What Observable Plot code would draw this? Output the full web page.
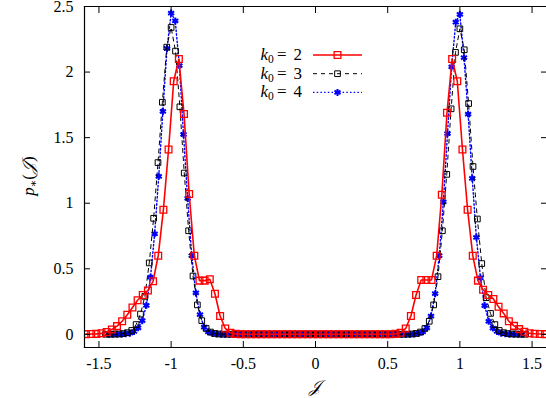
<!DOCTYPE html>
<html><head><meta charset="utf-8">
<script src="https://cdn.jsdelivr.net/npm/d3@7"></script>
<script src="https://cdn.jsdelivr.net/npm/@observablehq/plot@0.6"></script>
<style>
body{margin:0;background:#fff;}
#wrap{width:546px;height:398px;}
</style></head><body><div id="wrap"></div>
<script>
// k0 = 2 : samples at J = (2k+1)/56, k = -45..44
const pRed = [
  0.002,0.003,0.004,0.008,0.018,0.038,0.063,0.10,0.15,0.205,
  0.26,0.30,0.335,0.405,0.60,0.95,1.41,1.93,2.10,1.68,
  1.07,0.60,0.41,0.41,0.42,0.31,0.14,0.045,0.012,0.004,
  0.001,0.001,0.001,0.001,0.001,0.001,0.001,0.001,0.001,0.001,0.001,0.001,0.001,0.001,0.001,
  0.001,0.001,0.001,0.001,0.001,0.001,0.001,0.001,0.001,0.001,0.001,0.001,0.001,0.001,0.001,
  0.004,0.012,0.045,0.14,0.30,0.415,0.415,0.415,0.60,1.065,
  1.69,2.10,1.93,1.41,0.95,0.60,0.41,0.34,0.30,0.27,
  0.21,0.16,0.10,0.065,0.04,0.02,0.009,0.005,0.003,0.002
];
// k0 = 3 : samples at J = k/33, k = -48..48
const pBlack = [
  0.001,0.001,0.002,0.003,0.006,0.013,0.03,0.075,0.155,0.29,
  0.545,0.885,1.31,1.77,2.19,2.34,2.16,1.735,1.23,0.79,
  0.445,0.225,0.105,0.045,0.018,0.007,0.003,
  0.001,0.001,0.001,0.001,0.001,0.001,0.001,0.001,0.001,0.001,0.001,0.001,0.001,0.001,0.001,
  0.001,0.001,0.001,0.001,0.001,0.001,0.001,0.001,0.001,0.001,0.001,0.001,0.001,0.001,0.001,
  0.001,0.001,0.001,0.001,0.001,0.001,0.001,0.001,0.001,0.001,0.001,0.001,0.001,
  0.003,0.007,0.018,0.045,0.10,0.225,0.44,
  0.79,1.22,1.72,2.15,2.33,2.17,1.76,1.28,0.88,0.54,
  0.28,0.16,0.075,0.03,0.013,0.006,0.003,0.002,0.001,0.001
];
// k0 = 4 : samples at J = k/35, k = -50..50
const pBlue = [
  0.001,0.001,0.001,0.002,0.004,0.009,0.022,0.05,0.105,0.222,
  0.436,0.767,1.205,1.70,2.18,2.45,2.39,2.05,1.525,1.037,
  0.60,0.316,0.15,0.055,0.02,0.007,0.003,
  0.001,0.001,0.001,0.001,0.001,0.001,0.001,0.001,0.001,0.001,0.001,0.001,0.001,0.001,0.001,0.001,
  0.001,0.001,0.001,0.001,0.001,0.001,0.001,0.001,0.001,0.001,0.001,0.001,0.001,0.001,0.001,0.001,
  0.001,0.001,0.001,0.001,0.001,0.001,0.001,0.001,0.001,0.001,0.001,0.001,0.001,0.001,0.001,
  0.003,0.007,0.02,0.05,0.14,0.31,0.60,
  1.01,1.53,2.04,2.38,2.44,2.11,1.68,1.19,0.74,0.43,
  0.22,0.10,0.048,0.022,0.009,0.004,0.002,0.001,0.001,0.001
];
const seriesLabels = ["2", "3", "4"];
const xTicks = [-1.5, -1, -0.5, 0, 0.5, 1, 1.5];
const yTicks = [0, 0.5, 1, 1.5, 2, 2.5];

const redData = pRed.map((y, i) => ({x: (2 * (i - pRed.length / 2) + 1) / 56, y}));
const blackData = pBlack.map((y, i) => ({x: (i - (pBlack.length - 1) / 2) / 33, y}));
const blueData = pBlue.map((y, i) => ({x: (i - (pBlue.length - 1) / 2) / 35, y}));

const RED = "#ff0000", BLACK = "#000000", BLUE = "#0000ff";
const fmt = d => String(d);
const FONT = "'Liberation Serif', 'DejaVu Serif', serif";

const chart = Plot.plot({
  width: 546, height: 398,
  marginLeft: 84, marginRight: 0, marginTop: 6, marginBottom: 51,
  x: {domain: [-1.6, 1.6], label: null},
  y: {domain: [-0.1, 2.5], label: null},
  style: {fontFamily: FONT, fontSize: "16px", color: "#000", background: "#fff"},
  marks: [
    Plot.line(blueData, {x: "x", y: "y", stroke: BLUE, strokeWidth: 1.4, strokeDasharray: "1.5,2.2"}),
    Plot.dot(blueData, {x: "x", y: "y", symbol: "square", fill: BLUE, r: 1.7}),
    Plot.dot(blueData, {x: "x", y: "y", symbol: "asterisk", stroke: BLUE, strokeWidth: 2, r: 3.3}),
    Plot.line(blackData, {x: "x", y: "y", stroke: BLACK, strokeWidth: 1, strokeDasharray: "4,4"}),
    Plot.dot(blackData, {x: "x", y: "y", symbol: "square", stroke: BLACK, fill: "none", strokeWidth: 1, r: 3.2}),
    Plot.line(redData, {x: "x", y: "y", stroke: RED, strokeWidth: 1.6}),
    Plot.dot(redData, {x: "x", y: "y", symbol: "square", stroke: RED, fill: "none", strokeWidth: 1.3, r: 3.8, clip: true}),
    Plot.axisX({anchor: "bottom", ticks: xTicks, tickSize: -6, tickPadding: 16, tickFormat: fmt, label: null}),
    Plot.axisX({anchor: "top", ticks: xTicks, tickSize: -6, tickFormat: () => "", label: null}),
    Plot.axisY({anchor: "left", ticks: yTicks, tickSize: -6, tickPadding: 17, tickFormat: fmt, label: null}),
    Plot.axisY({anchor: "right", ticks: yTicks, tickSize: -6, tickFormat: () => "", label: null}),
    Plot.frame({anchor: "left", strokeWidth: 1.2}),
    Plot.frame({anchor: "top", strokeWidth: 1.2}),
    Plot.frame({anchor: "bottom", strokeWidth: 1.2})
  ]
});
document.getElementById("wrap").appendChild(chart);

const svg = d3.select(chart);
// y label
const yl = svg.append("text")
  .attr("transform", "translate(34,176) rotate(-90)")
  .attr("text-anchor", "middle")
  .attr("font-family", FONT).attr("font-size", 17).attr("fill", "#000");
yl.append("tspan").attr("font-style", "italic").text("p");
yl.append("tspan").attr("font-size", 11).attr("dy", 3).text("∗");
yl.append("tspan").attr("dy", -3).text("(");
yl.append("tspan").attr("font-style", "italic").text("𝒥");
yl.append("tspan").text(")");
// x label
svg.append("text").attr("x", 315).attr("y", 392).attr("text-anchor", "middle")
  .attr("font-family", FONT).attr("font-size", 17).attr("font-style", "italic").attr("fill", "#000")
  .text("𝒥");

// legend
const styles = [
  {stroke: RED, dash: null, w: 1.6, sym: "square", sw: 1.3, size: 3.8},
  {stroke: BLACK, dash: "4,4", w: 1, sym: "square", sw: 1, size: 3.2},
  {stroke: BLUE, dash: "1.5,2.2", w: 1.4, sym: "asterisk", sw: 2, size: 3.3}
];
const lg = svg.append("g");
seriesLabels.forEach((lab, i) => {
  const cy = 55 + i * 18.7;
  const s = styles[i];
  const t = lg.append("text").attr("x", 302).attr("y", cy + 5).attr("text-anchor", "end")
    .attr("font-family", FONT).attr("font-size", 17).attr("fill", "#000");
  t.append("tspan").attr("font-style", "italic").text("k");
  t.append("tspan").attr("font-size", 11.5).attr("dy", 3).text("0");
  t.append("tspan").attr("dy", -3).text("\u2009=\u2009" + "\u2009" + lab);
  lg.append("line").attr("x1", 313).attr("x2", 362).attr("y1", cy).attr("y2", cy)
    .attr("stroke", s.stroke).attr("stroke-width", s.w).attr("stroke-dasharray", s.dash);
  if (i === 2) {
    lg.append("path").attr("transform", `translate(337.5,${cy})`)
      .attr("d", d3.symbol(d3.symbolSquare, Math.PI * 1.7 * 1.7)()).attr("fill", BLUE);
  }
  const symType = s.sym === "square" ? d3.symbolSquare : d3.symbolAsterisk;
  lg.append("path").attr("transform", `translate(337.5,${cy})`)
    .attr("d", d3.symbol(symType, Math.PI * s.size * s.size)())
    .attr("fill", "none").attr("stroke", s.stroke).attr("stroke-width", s.sw);
});
</script>
</body></html>
